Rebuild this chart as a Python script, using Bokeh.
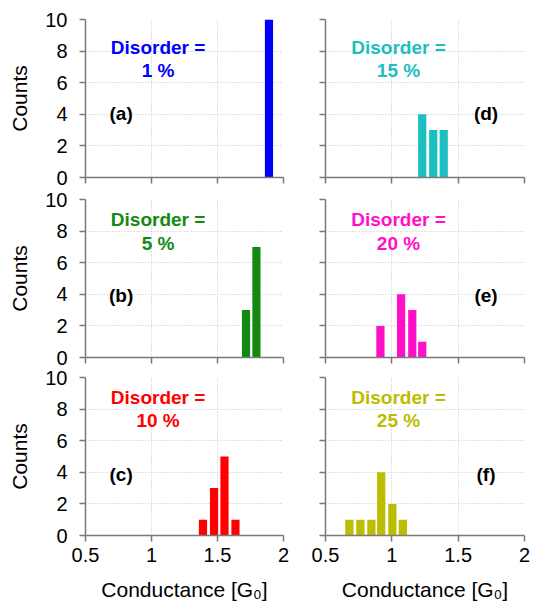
from bokeh.plotting import figure
from bokeh.layouts import gridplot
from bokeh.models import Range1d, FixedTicker
from bokeh.core.properties import value
from bokeh.embed import file_html
from bokeh.resources import INLINE

# ---------------- data ----------------
x_ticks = [0.5, 1, 1.5, 2]
x_tick_labels = ["0.5", "1", "1.5", "2"]
y_ticks = [0, 2, 4, 6, 8, 10]
y_tick_labels = ["0", "2", "4", "6", "8", "10"]

panel_letters = ["(a)", "(b)", "(c)", "(d)", "(e)", "(f)"]
disorder_pct = ["1 %", "5 %", "10 %", "15 %", "20 %", "25 %"]
panel_colors = ["#0000ff", "#128a12", "#ff0000", "#1cbfbf", "#ff10c8", "#bcbc00"]

cond_a = [1.89]
count_a = [10]
cond_b = [1.716, 1.795]
count_b = [3, 7]
cond_c = [1.39, 1.474, 1.553, 1.636]
count_c = [1, 3, 5, 1]
cond_d = [1.229, 1.312, 1.391]
count_d = [4, 3, 3]
cond_e = [0.914, 1.07, 1.154, 1.229]
count_e = [2, 4, 3, 1]
cond_f = [0.68, 0.763, 0.846, 0.92, 1.004, 1.083]
count_f = [1, 1, 1, 4, 2, 1]

conds = [cond_a, cond_b, cond_c, cond_d, cond_e, cond_f]
counts = [count_a, count_b, count_c, count_d, count_e, count_f]

x_label = "Conductance [G\u2080]"
y_label = "Counts"

# ---------------- styling / layout ----------------
FONT = "Liberation Sans"
BAR_W = 0.062
FRAME_H = 158
LEFT_W, RIGHT_W = 198, 199
row_borders = [(19, 11), (11, 11), (9, 66)]  # (top, bottom)
text_y = [(8.25, 6.75), (8.75, 7.2), (8.75, 7.25)]
letter_y = [4.05, 3.95, 3.85]


def make_panel(i):
    col = 0 if i < 3 else 1
    row = i % 3
    top, bottom = row_borders[row]
    p = figure(
        output_backend="svg", toolbar_location=None,
        frame_width=LEFT_W if col == 0 else RIGHT_W, frame_height=FRAME_H,
        x_range=Range1d(0.5, 2), y_range=Range1d(0, 10),
        min_border_left=85 if col == 0 else 22,
        min_border_right=20 if col == 0 else 6,
        min_border_top=top, min_border_bottom=bottom,
        background_fill_color="white", border_fill_color="white",
    )
    p.outline_line_color = None

    for ax in (p.xaxis[0], p.yaxis[0]):
        ax.axis_line_color = "#7a7a7a"
        ax.axis_line_width = 1.5
        ax.major_tick_line_color = "#7a7a7a"
        ax.major_tick_line_width = 1.5
        ax.major_tick_out = 6
        ax.major_tick_in = 0
        ax.minor_tick_line_color = None
        ax.major_label_text_font = FONT
        ax.major_label_text_font_size = "20px"
        ax.major_label_text_color = "black"
        ax.axis_label_text_font = FONT
        ax.axis_label_text_font_size = "21px"
        ax.axis_label_text_font_style = "normal"
        ax.axis_label_text_color = "black"

    p.xaxis[0].ticker = FixedTicker(ticks=x_ticks)
    p.yaxis[0].ticker = FixedTicker(ticks=y_ticks)
    p.xaxis[0].major_label_overrides = {t: s for t, s in zip(x_ticks, x_tick_labels)}
    p.yaxis[0].major_label_overrides = {t: s for t, s in zip(y_ticks, y_tick_labels)}

    if row == 2:
        p.xaxis[0].axis_label = x_label
        p.xaxis[0].major_label_standoff = 6
        p.xaxis[0].axis_label_standoff = 13
    else:
        p.xaxis[0].major_label_text_font_size = "0px"
        p.xaxis[0].major_label_text_color = None
        p.xaxis[0].major_label_standoff = 0

    if col == 0:
        p.yaxis[0].axis_label = y_label
        p.yaxis[0].major_label_standoff = 12
        p.yaxis[0].axis_label_standoff = 11
    else:
        p.yaxis[0].major_label_text_font_size = "0px"
        p.yaxis[0].major_label_text_color = None
        p.yaxis[0].major_label_standoff = 0

    for g in (p.xgrid[0], p.ygrid[0]):
        g.grid_line_color = "#c4c4c4"
        g.grid_line_dash = "1 2"
        g.grid_line_width = 1

    color = panel_colors[i]
    p.vbar(x=conds[i], top=counts[i], bottom=0, width=BAR_W,
           fill_color=color, line_color=None)

    y1, y2 = text_y[row]
    p.text(x=[1.05, 1.05], y=[y1, y2], text=["Disorder =", disorder_pct[i]],
           text_font=value(FONT), text_font_style="bold", text_font_size="19px",
           text_color=color, text_align="center", text_baseline="middle")
    p.text(x=[0.77 if col == 0 else 1.71], y=[letter_y[row]], text=[panel_letters[i]],
           text_font=value(FONT), text_font_style="bold", text_font_size="19px",
           text_color="black", text_align="center", text_baseline="middle")
    return p


panels = [make_panel(i) for i in range(6)]
grid = gridplot([[panels[0], panels[3]], [panels[1], panels[4]], [panels[2], panels[5]]],
                toolbar_location=None)

open("out.html", "w").write(file_html(grid, INLINE))
